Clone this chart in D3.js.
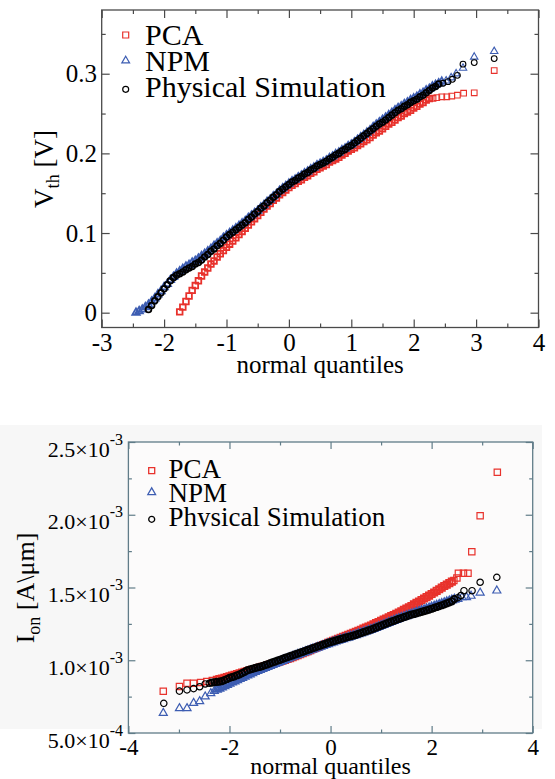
<!DOCTYPE html>
<html><head><meta charset="utf-8">
<script src="https://cdn.jsdelivr.net/npm/d3@7"></script>
<style>
html,body{margin:0;padding:0;background:#fff;}
svg{display:block;}
</style></head><body>
<svg id="chart" width="555" height="779"></svg>
<script>
// ================= DATA =================
const seriesNames = ["PCA", "NPM", "Physical Simulation"];

// ---- Top panel: V_th [V] vs normal quantiles ----
const vthQ = [
-2.45,-2.4,-2.35,-2.3,-2.25,-2.2,-2.15,-2.1,-2.05,-2,
-1.95,-1.9,-1.85,-1.8,-1.75,-1.7,-1.65,-1.6,-1.55,-1.5,
-1.45,-1.4,-1.35,-1.3,-1.25,-1.2,-1.15,-1.1,-1.05,-1,
-0.95,-0.9,-0.85,-0.8,-0.75,-0.7,-0.65,-0.6,-0.55,-0.5,
-0.45,-0.4,-0.35,-0.3,-0.25,-0.2,-0.15,-0.1,-0.05,0,
0.05,0.1,0.15,0.2,0.25,0.3,0.35,0.4,0.45,0.5,
0.55,0.6,0.65,0.7,0.75,0.8,0.85,0.9,0.95,1,
1.05,1.1,1.15,1.2,1.25,1.3,1.35,1.4,1.45,1.5,
1.55,1.6,1.65,1.7,1.75,1.8,1.85,1.9,1.95,2,
2.05,2.1,2.15,2.2,2.25,2.3,2.35,2.4,2.45];
const vthPCA = [
null,null,null,null,null,null,null,null,null,null,
null,null,null,null,.001,.007,.014,.021,.028,.034,
.040,.046,.051,.056,.061,.065,.070,.074,.078,.082,
.086,.090,.094,.098,.102,.106,.110,.114,.118,.122,
.126,.130,.134,.137,.141,.144,.148,.151,.154,.157,
.160,.162,.165,.167,.170,.172,.175,.177,.180,.182,
.184,.186,.189,.191,.193,.195,.198,.200,.203,.205,
.207,.210,.212,.215,.217,.220,.223,.226,.228,.231,
.234,.237,.239,.242,.245,.247,.250,.252,.254,.257,
.259,.262,.264,.267,.269,null,null,null,null];
const vthNPM = [
.000,.002,.004,.007,.010,.014,.018,.023,.027,.032,
.036,.041,.045,.049,.052,.055,.058,.060,.063,.065,
.068,.071,.074,.077,.080,.084,.087,.090,.094,.097,
.100,.103,.106,.109,.112,.115,.119,.122,.125,.128,
.132,.135,.139,.142,.146,.149,.153,.156,.159,.162,
.165,.167,.170,.172,.175,.177,.180,.182,.185,.187,
.189,.191,.194,.196,.199,.201,.204,.206,.209,.211,
.214,.217,.220,.223,.226,.229,.233,.236,.239,.242,
.245,.248,.251,.254,.257,.259,.262,.264,.267,.269,
.271,.274,.276,.279,.281,.284,.286,.288,.290];
const vthPS = [
null,null,null,null,.004,.009,.015,.020,.025,.030,
.035,.040,.044,.047,.049,.051,.054,.056,.058,.061,
.063,.066,.070,.073,.077,.080,.084,.087,.091,.095,
.098,.101,.104,.107,.110,.113,.117,.120,.124,.127,
.131,.134,.138,.141,.145,.148,.152,.155,.158,.161,
.164,.166,.169,.171,.174,.176,.179,.181,.184,.186,
.188,.190,.193,.195,.198,.200,.203,.205,.208,.210,
.213,.216,.219,.222,.225,.228,.231,.234,.237,.239,
.242,.245,.248,.251,.254,.256,.259,.261,.264,.266,
.268,.271,.273,.276,.279,.282,.284,.287,null];
// separate outlying points of the upper tail
const vthPCATailQ = [2.31,2.37,2.45,2.53,2.61,2.70,2.80,2.97,3.29];
const vthPCATailV = [0.269,0.270,0.271,0.271,0.272,0.273,0.2756,0.276,0.304];
const vthNPMTailQ = [2.52,2.60,2.68,2.79,2.97,3.29];
const vthNPMTailV = [0.291,0.295,0.300,0.307,0.321,0.328];
const vthPSTailQ = [2.47,2.55,2.62,2.70,2.79,2.97,3.29];
const vthPSTailV = [0.288,0.290,0.293,0.298,0.312,0.314,0.319];

const vthXTicks = [-3,-2,-1,0,1,2,3,4];
const vthXTickLabels = ["-3","-2","-1","0","1","2","3","4"];
const vthXMinor = [-2.5,-1.5,-0.5,0.5,1.5,2.5,3.5];
const vthYTicks = [0,0.1,0.2,0.3];
const vthYTickLabels = ["0","0.1","0.2","0.3"];
const vthYMinor = [0.05,0.15,0.25,0.35];

// ---- Bottom panel: I_on [A/um] (values in units of 1e-3) ----
const ionQ = [
-2.35,-2.3,-2.25,-2.2,-2.15,-2.1,-2.05,-2,-1.95,-1.9,
-1.85,-1.8,-1.75,-1.7,-1.65,-1.6,-1.55,-1.5,-1.45,-1.4,
-1.35,-1.3,-1.25,-1.2,-1.15,-1.1,-1.05,-1,-0.95,-0.9,
-0.85,-0.8,-0.75,-0.7,-0.65,-0.6,-0.55,-0.5,-0.45,-0.4,
-0.35,-0.3,-0.25,-0.2,-0.15,-0.1,-0.05,0,0.05,0.1,
0.15,0.2,0.25,0.3,0.35,0.4,0.45,0.5,0.55,0.6,
0.65,0.7,0.75,0.8,0.85,0.9,0.95,1,1.05,1.1,
1.15,1.2,1.25,1.3,1.35,1.4,1.45,1.5,1.55,1.6,
1.65,1.7,1.75,1.8,1.85,1.9,1.95,2,2.05,2.1,
2.15,2.2,2.25,2.3,2.35,2.4,2.45];
const ionPCA = [
null,null,.866,.870,.875,.880,.885,.890,.895,.900,
.905,.910,.915,.920,.925,.930,.935,.940,.945,.950,
.955,.960,.965,.970,.975,.981,.986,.992,.997,1.003,
1.009,1.015,1.021,1.028,1.035,1.042,1.049,1.056,1.063,1.070,
1.077,1.084,1.091,1.098,1.105,1.112,1.119,1.126,1.133,1.140,
1.147,1.154,1.161,1.168,1.175,1.182,1.189,1.196,1.203,1.210,
1.217,1.224,1.231,1.239,1.247,1.255,1.263,1.271,1.279,1.287,
1.295,1.303,1.311,1.319,1.328,1.337,1.346,1.355,1.364,1.373,
1.384,1.394,1.404,1.414,1.424,1.434,1.444,1.455,1.466,1.477,
1.488,1.499,1.510,1.520,1.530,1.540,null];
const ionNPM = [
null,null,.798,.806,.814,.823,.832,.840,.848,.856,
.864,.872,.880,.888,.896,.904,.912,.920,.927,.934,
.941,.948,.955,.962,.969,.976,.983,.990,.997,1.004,
1.011,1.018,1.025,1.031,1.038,1.044,1.051,1.057,1.063,1.070,
1.076,1.082,1.088,1.094,1.100,1.106,1.112,1.118,1.124,1.130,
1.135,1.141,1.146,1.152,1.157,1.163,1.168,1.174,1.180,1.186,
1.192,1.198,1.204,1.210,1.216,1.223,1.230,1.237,1.244,1.251,
1.258,1.265,1.272,1.279,1.286,1.292,1.298,1.304,1.310,1.316,
1.322,1.328,1.334,1.340,1.346,1.352,1.358,1.364,1.370,1.376,
1.382,1.388,1.394,1.400,1.406,1.412,1.418];
const ionPS = [
.846,.849,.851,.853,.857,.863,.871,.879,.884,.889,
.897,.903,.911,.920,.930,.936,.941,.946,.951,.955,
.960,.966,.972,.978,.985,.991,.997,1.003,1.009,1.016,
1.022,1.028,1.034,1.040,1.046,1.052,1.058,1.064,1.071,1.077,
1.083,1.089,1.095,1.101,1.107,1.113,1.119,1.125,1.130,1.135,
1.140,1.145,1.150,1.155,1.160,1.165,1.170,1.175,1.181,1.187,
1.193,1.199,1.205,1.211,1.217,1.224,1.231,1.238,1.245,1.252,
1.258,1.265,1.271,1.278,1.284,1.290,1.296,1.302,1.308,1.313,
1.318,1.323,1.328,1.333,1.338,1.343,1.348,1.354,1.360,1.366,
1.372,1.378,1.384,1.391,1.398,1.405,1.420];
const ionPCATailQ = [-3.31,-2.99,-2.84,-2.71,-2.57,-2.45,-2.34, 2.44,2.50,2.53,2.63,2.72,2.795,2.96,3.30];
const ionPCATailV = [0.787,0.820,0.842,0.842,0.847,0.854,0.861, 1.548,1.565,1.598,1.598,1.598,1.746,1.993,2.292];
const ionNPMTailQ = [-3.31,-2.99,-2.84,-2.71,-2.59,-2.48,-2.37,-2.30, 2.52,2.60,2.69,2.78,2.96,3.29];
const ionNPMTailV = [0.637,0.670,0.670,0.706,0.718,0.750,0.773,0.788, 1.420,1.433,1.433,1.442,1.464,1.478];
const ionPSTailQ = [-3.30,-2.99,-2.84,-2.71,-2.59,-2.48,-2.40, 2.52,2.58,2.64,2.80,2.96,3.29];
const ionPSTailV = [0.704,0.788,0.796,0.805,0.818,0.837,0.842, 1.430,1.445,1.478,1.478,1.536,1.570];

const ionXTicks = [-4,-2,0,2,4];
const ionXTickLabels = ["-4","-2","0","2","4"];
const ionXMinor = [-3,-1,1,3];
const ionYTicks = [0.5,1.0,1.5,2.0,2.5];
const ionYTickMant = ["5.0","1.0","1.5","2.0","2.5"];
const ionYTickExp = ["-4","-3","-3","-3","-3"];
const ionYMinor = [0.75,1.25,1.75,2.25];

// ================= DRAWING =================
const SERIF = '"Liberation Serif","Times New Roman",Times,serif';
const RED = "#e8322c", BLUE = "#3d5db2", BLACK = "#000";
const svg = d3.select("#chart");

function zip(q, v) { return q.map((d, i) => [d, v[i]]).filter(p => p[1] != null); }

function addAxis(g, axis, tx, ty, lineColor, fs) {
  const a = g.append("g").attr("transform", `translate(${tx},${ty})`).call(axis);
  a.select(".domain").remove();
  a.attr("font-family", SERIF).attr("font-size", fs).style("color", "#000");
  a.selectAll("line").attr("stroke", lineColor).attr("stroke-width", 1.2);
  return a;
}

function markers(g, pts, x, y, type, size, color, sw) {
  const sym = d3.symbol().type(type).size(size);
  g.append("g").selectAll("path").data(pts).join("path")
    .attr("d", sym)
    .attr("transform", d => `translate(${x(d[0])},${y(d[1])})`)
    .attr("fill", "none").attr("stroke", color).attr("stroke-width", sw);
}

// ---------- TOP PANEL ----------
{
  const x = d3.scaleLinear().domain([-3, 4]).range([101.7, 538.5]);
  const y = d3.scaleLinear().domain([-0.0186, 0.38]).range([327.5, 10]);
  const g = svg.append("g");
  const fc = "#4a4a4a";
  const [xl, xr] = x.range(), [yb, yt] = y.range();
  g.append("rect").attr("x", xl).attr("y", yt).attr("width", xr - xl).attr("height", yb - yt)
    .attr("fill", "#fff").attr("stroke", fc).attr("stroke-width", 1.3);

  const sq = 32, tri = 24, cir = 26;
  markers(g, zip(vthQ, vthPCA), x, y, d3.symbolSquare, sq, RED, 1.8);
  markers(g, zip(vthPCATailQ, vthPCATailV), x, y, d3.symbolSquare, sq, RED, 1.1);
  markers(g, zip(vthQ, vthNPM), x, y, d3.symbolTriangle, tri, BLUE, 1.8);
  markers(g, zip(vthNPMTailQ, vthNPMTailV), x, y, d3.symbolTriangle, tri, BLUE, 1.1);
  markers(g, zip(vthQ, vthPS), x, y, d3.symbolCircle, cir, BLACK, 1.8);
  markers(g, zip(vthPSTailQ, vthPSTailV), x, y, d3.symbolCircle, cir, BLACK, 1.1);

  addAxis(g, d3.axisBottom(x).tickValues(vthXTicks).tickSizeInner(-8).tickSizeOuter(0).tickPadding(6.2)
    .tickFormat((d, i) => vthXTickLabels[i]), 0, yb, fc, 25);
  addAxis(g, d3.axisBottom(x).tickValues(vthXMinor).tickSizeInner(-4).tickSizeOuter(0).tickFormat(""), 0, yb, fc, 10);
  addAxis(g, d3.axisTop(x).tickValues(vthXTicks).tickSizeInner(-8).tickSizeOuter(0).tickFormat(""), 0, yt, fc, 10);
  addAxis(g, d3.axisTop(x).tickValues(vthXMinor).tickSizeInner(-4).tickSizeOuter(0).tickFormat(""), 0, yt, fc, 10);
  addAxis(g, d3.axisLeft(y).tickValues(vthYTicks).tickSizeInner(-8).tickSizeOuter(0).tickPadding(4.7)
    .tickFormat((d, i) => vthYTickLabels[i]), xl, 0, fc, 25);
  addAxis(g, d3.axisLeft(y).tickValues(vthYMinor).tickSizeInner(-4).tickSizeOuter(0).tickFormat(""), xl, 0, fc, 10);
  addAxis(g, d3.axisRight(y).tickValues(vthYTicks).tickSizeInner(-8).tickSizeOuter(0).tickFormat(""), xr, 0, fc, 10);
  addAxis(g, d3.axisRight(y).tickValues(vthYMinor).tickSizeInner(-4).tickSizeOuter(0).tickFormat(""), xr, 0, fc, 10);

  // axis titles
  g.append("text").attr("x", (xl + xr) / 2).attr("y", 373).attr("text-anchor", "middle")
    .attr("font-family", SERIF).attr("font-size", 25).text("normal quantiles");
  const yl = g.append("text").attr("transform", "translate(53,169) rotate(-90)").attr("text-anchor", "middle")
    .attr("font-family", SERIF).attr("font-size", 27);
  yl.append("tspan").text("V");
  yl.append("tspan").attr("font-size", 18).attr("dy", 6).text("th");
  yl.append("tspan").attr("dy", -6).text(" [V]");

  // legend
  const lgY = [35, 60.7, 89.3], lgB = [45, 70.5, 96.5];
  const lgT = [d3.symbolSquare, d3.symbolTriangle, d3.symbolCircle], lgC = [RED, BLUE, BLACK], lgS = [36, 26, 28];
  seriesNames.forEach((name, i) => {
    g.append("path").attr("d", d3.symbol().type(lgT[i]).size(lgS[i]))
      .attr("transform", `translate(125.7,${lgY[i]})`).attr("fill", "none").attr("stroke", lgC[i]).attr("stroke-width", 1.2);
    g.append("text").attr("x", 145).attr("y", lgB[i]).attr("font-family", SERIF).attr("font-size", 30).text(name);
  });
}

// ---------- BOTTOM PANEL ----------
{
  const x = d3.scaleLinear().domain([-4, 4]).range([128.4, 532.7]);
  const y = d3.scaleLinear().domain([0.5, 2.5]).range([733, 442]);
  const g = svg.append("g");
  const fc = "#607c88";
  const [xl, xr] = x.range(), [yb, yt] = y.range();
  g.append("rect").attr("x", 0).attr("y", 425).attr("width", 542).attr("height", 304).attr("fill", "#f7f7f7");
  g.append("rect").attr("x", xl).attr("y", yt).attr("width", xr - xl).attr("height", yb - yt)
    .attr("fill", "#fcfbfb").attr("stroke", fc).attr("stroke-width", 1.3);

  const sq = 40, tri = 28, cir = 32;
  markers(g, zip(ionQ, ionPCA), x, y, d3.symbolSquare, sq, RED, 1.8);
  markers(g, zip(ionPCATailQ, ionPCATailV), x, y, d3.symbolSquare, sq, RED, 1.2);
  markers(g, zip(ionQ, ionNPM), x, y, d3.symbolTriangle, tri, BLUE, 1.8);
  markers(g, zip(ionNPMTailQ, ionNPMTailV), x, y, d3.symbolTriangle, tri, BLUE, 1.2);
  markers(g, zip(ionQ, ionPS), x, y, d3.symbolCircle, cir, BLACK, 1.8);
  markers(g, zip(ionPSTailQ, ionPSTailV), x, y, d3.symbolCircle, cir, BLACK, 1.2);

  addAxis(g, d3.axisBottom(x).tickValues(ionXTicks).tickSizeInner(-7).tickSizeOuter(0).tickPadding(5.2)
    .tickFormat((d, i) => ionXTickLabels[i]), 0, yb, fc, 23);
  addAxis(g, d3.axisBottom(x).tickValues(ionXMinor).tickSizeInner(-3.5).tickSizeOuter(0).tickFormat(""), 0, yb, fc, 10);
  addAxis(g, d3.axisTop(x).tickValues(ionXTicks).tickSizeInner(-7).tickSizeOuter(0).tickFormat(""), 0, yt, fc, 10);
  addAxis(g, d3.axisTop(x).tickValues(ionXMinor).tickSizeInner(-3.5).tickSizeOuter(0).tickFormat(""), 0, yt, fc, 10);
  const ya = addAxis(g, d3.axisLeft(y).tickValues(ionYTicks).tickSizeInner(-7).tickSizeOuter(0).tickPadding(5.4)
    .tickFormat(""), xl, 0, fc, 22);
  ya.selectAll(".tick text").attr("dy", 14).each(function (d, i) {
    const t = d3.select(this);
    t.append("tspan").text(ionYTickMant[i] + "\u00d710");
    t.append("tspan").attr("dy", -12).attr("font-size", 16).text(ionYTickExp[i]);
  });
  addAxis(g, d3.axisLeft(y).tickValues(ionYMinor).tickSizeInner(-3.5).tickSizeOuter(0).tickFormat(""), xl, 0, fc, 10);
  addAxis(g, d3.axisRight(y).tickValues(ionYTicks).tickSizeInner(-7).tickSizeOuter(0).tickFormat(""), xr, 0, fc, 10);
  addAxis(g, d3.axisRight(y).tickValues(ionYMinor).tickSizeInner(-3.5).tickSizeOuter(0).tickFormat(""), xr, 0, fc, 10);

  g.append("text").attr("x", (xl + xr) / 2).attr("y", 773.5).attr("text-anchor", "middle")
    .attr("font-family", SERIF).attr("font-size", 24).text("normal quantiles");
  const yl = g.append("text").attr("transform", "translate(34,588) rotate(-90)").attr("text-anchor", "middle")
    .attr("font-family", SERIF).attr("font-size", 26);
  yl.append("tspan").text("I");
  yl.append("tspan").attr("font-size", 18).attr("dy", 6).text("on");
  yl.append("tspan").attr("dy", -6).text(" [A\\\u03bcm]");

  // legend
  svg.append("defs").append("clipPath").attr("id", "lgclip")
    .append("rect").attr("x", 0).attr("y", 0).attr("width", 555).attr("height", 526.5);
  const lgY = [470.7, 492.3, 519.3], lgB = [478, 502, 526];
  const lgT = [d3.symbolSquare, d3.symbolTriangle, d3.symbolCircle], lgC = [RED, BLUE, BLACK], lgS = [36, 26, 28];
  seriesNames.forEach((name, i) => {
    g.append("path").attr("d", d3.symbol().type(lgT[i]).size(lgS[i]))
      .attr("transform", `translate(151.7,${lgY[i]})`).attr("fill", "none").attr("stroke", lgC[i]).attr("stroke-width", 1.3);
    g.append("text").attr("x", 168.5).attr("y", lgB[i]).attr("font-family", SERIF).attr("font-size", 27)
      .attr("clip-path", i === 2 ? "url(#lgclip)" : null).text(name);
  });
}
</script>
</body></html>
